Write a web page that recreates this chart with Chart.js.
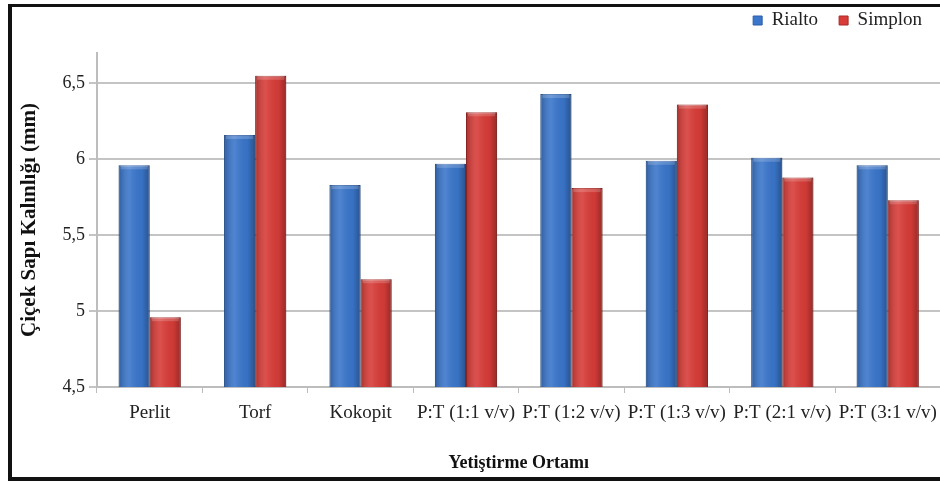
<!DOCTYPE html>
<html>
<head>
<meta charset="utf-8">
<script src="https://cdn.jsdelivr.net/npm/chart.js@4/dist/chart.umd.min.js"></script>
<style>
  html, body { margin: 0; padding: 0; background: #fff; overflow: hidden; }
  #frame {
    position: absolute; left: 8px; top: 4px;
    border: 4px solid #111; border-top-width: 3px;
    background: #fff;
  }
  #box { position: relative; width: 934px; height: 470px; }
</style>
</head>
<body>
<div id="frame"><div id="box"><canvas id="barChart"></canvas></div></div>
<script>
// veriler
const ortamlar = ['Perlit', 'Torf', 'Kokopit', 'P:T (1:1 v/v)', 'P:T (1:2 v/v)', 'P:T (1:3 v/v)', 'P:T (2:1 v/v)', 'P:T (3:1 v/v)'];
const rialto  = [5.96, 6.16, 5.83, 5.97, 6.43, 5.99, 6.01, 5.96];
const simplon = [4.96, 6.55, 5.21, 6.31, 5.81, 6.36, 5.88, 5.73];
const yTicks  = [4.5, 5, 5.5, 6, 6.5];

const serif = "'Liberation Serif', 'DejaVu Serif', serif";

// legend ile grafik arasinda biraz bosluk
const legendGap = {
  id: 'legendGap',
  afterInit(chart) {
    const fit = chart.legend.fit;
    chart.legend.fit = function () {
      fit.call(this);
      this.height += 13;
    };
  }
};

// silindir gorunumu icin golge
const shade = {
  id: 'shade',
  afterDatasetsDraw(chart) {
    const c = chart.ctx;
    const bottom = chart.chartArea.bottom;
    chart.data.datasets.forEach((ds, i) => {
      chart.getDatasetMeta(i).data.forEach(bar => {
        const l = bar.x - bar.width / 2, r = bar.x + bar.width / 2;
        const base = Math.min(bar.base, bottom);
        const g = c.createLinearGradient(l, 0, r, 0);
        g.addColorStop(0, 'rgba(0,0,0,0.22)');
        g.addColorStop(0.35, 'rgba(255,255,255,0.10)');
        g.addColorStop(0.75, 'rgba(0,0,0,0.04)');
        g.addColorStop(1, 'rgba(0,0,0,0.30)');
        c.save();
        c.fillStyle = g;
        c.fillRect(l, bar.y, bar.width, base - bar.y);
        c.fillStyle = 'rgba(255,255,255,0.18)';
        c.fillRect(l + 2, bar.y, bar.width - 4, 4);
        c.restore();
      });
    });
  }
};

const ctx = document.getElementById('barChart').getContext('2d');
new Chart(ctx, {
  type: 'bar',
  data: {
    labels: ortamlar,
    datasets: [{
      label: 'Rialto',
      data: rialto,
      backgroundColor: '#3a76cb',
      borderColor: '#2c5ea8',
      borderWidth: 1
    }, {
      label: 'Simplon',
      data: simplon,
      backgroundColor: '#d83c38',
      borderColor: '#a92b28',
      borderWidth: 1
    }]
  },
  options: {
    responsive: true,
    maintainAspectRatio: false,
    animation: false,
    categoryPercentage: 0.59,
    barPercentage: 1,
    layout: { padding: { top: -17, right: 3, left: 0, bottom: 0 } },
    scales: {
      x: {
        grid: { drawOnChartArea: false, tickLength: 6, color: '#bdbdbd', offset: true },
        border: { color: '#bdbdbd', width: 2 },
        ticks: {
          color: '#222', autoSkip: false, maxRotation: 0, minRotation: 0, padding: 9,
          font: { family: serif, size: 19 }
        },
        title: {
          display: true, text: 'Yetiştirme Ortamı', color: '#111',
          font: { family: serif, size: 18, weight: 'bold' },
          padding: { top: 0, bottom: 3 }
        },
        afterFit(scale) { scale.height = 90; }
      },
      y: {
        min: 4.5,
        max: 6.7,
        afterBuildTicks(scale) { scale.ticks = yTicks.map(v => ({ value: v })); },
        grid: { color: '#c4c4c4', lineWidth: 2, tickLength: 8 },
        border: { color: '#bdbdbd', width: 2 },
        ticks: {
          color: '#222', padding: 4,
          font: { family: serif, size: 18 },
          callback: v => String(v).replace('.', ',')
        },
        title: {
          display: true, text: 'Çiçek Sapı Kalınlığı (mm)', color: '#111',
          font: { family: serif, size: 21, weight: 'bold' },
          padding: { top: 5, bottom: 0 }
        },
        afterFit(scale) { scale.width = 85; }
      }
    },
    plugins: {
      legend: {
        position: 'top',
        align: 'end',
        labels: {
          boxWidth: 9, boxHeight: 9, padding: 21, color: '#222',
          font: { family: serif, size: 19 }
        }
      },
      tooltip: { enabled: false }
    }
  },
  plugins: [legendGap, shade]
});
</script>
</body>
</html>
